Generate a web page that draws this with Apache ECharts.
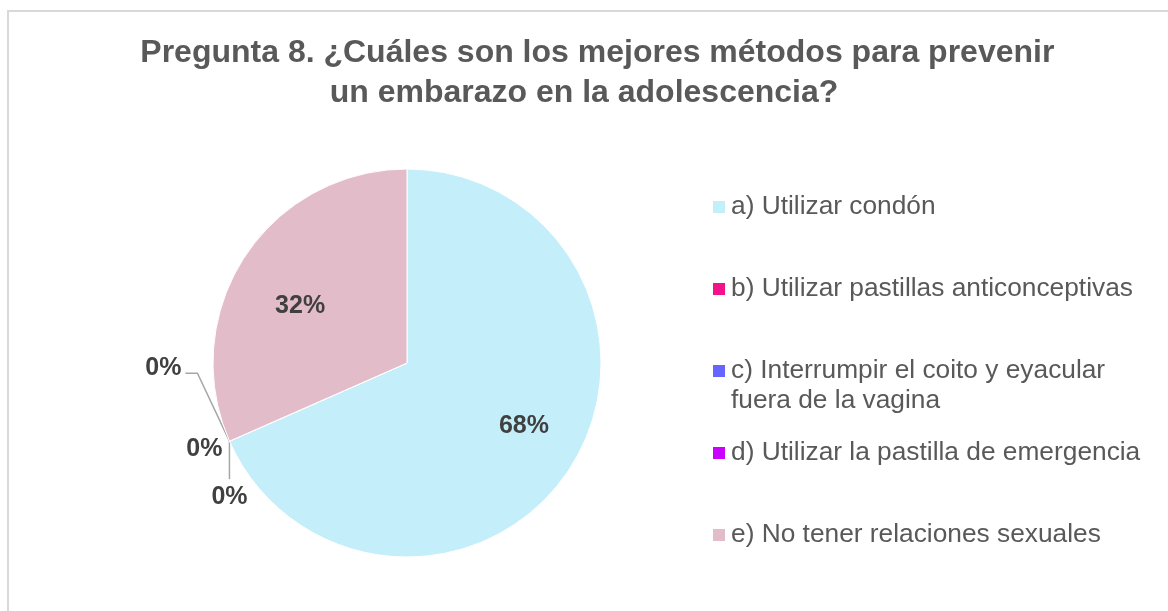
<!DOCTYPE html>
<html>
<head>
<meta charset="utf-8">
<script src="https://cdn.jsdelivr.net/npm/echarts@6/dist/echarts.min.js"></script>
<style>
  html, body { margin: 0; padding: 0; background: #fff; overflow: hidden; }
  #frame { position: absolute; left: 7px; top: 10px; width: 1300px; height: 800px;
           border-left: 2px solid #d9d9d9; border-top: 2px solid #d9d9d9; }
  #main { position: absolute; left: 0; top: 0; width: 1168px; height: 611px; }
</style>
</head>
<body>
<div id="frame"></div>
<div id="main"></div>
<script>
var categories = ['a) Utilizar condón', 'b) Utilizar pastillas anticonceptivas',
    'c) Interrumpir el coito y eyacular fuera de la vagina',
    'd) Utilizar la pastilla de emergencia', 'e) No tener relaciones sexuales'];
var values = [68.4, 0, 0, 0, 31.6];
var colors = ['#c5eefb', '#f2128a', '#6666ff', '#cc00ff', '#e3bcc9'];

var cx = 407, cy = 363, R = 194;
var legendCenters = [207, 289, 371, 453, 535];
var lh = 30;

var myChart = echarts.init(document.getElementById('main'));

var legends = categories.map(function (name, i) {
    var twoLine = name.indexOf('c)') === 0;
    return {
        orient: 'vertical',
        left: 711,
        top: legendCenters[i] - (twoLine ? lh * 1.5 : lh / 2),
        padding: 0,
        itemWidth: 14,
        itemHeight: 14,
        icon: 'rect',
        selectedMode: false,
        data: [name],
        // empty first line keeps the icon level with the first text line
        formatter: function (n) {
            return twoLine ? '\nc) Interrumpir el coito y eyacular\nfuera de la vagina' : n;
        },
        textStyle: {
            color: '#595959',
            fontSize: 26.3,
            lineHeight: lh,
            fontFamily: 'Liberation Sans, Arial, sans-serif'
        }
    };
});

// nudges for the inside labels
var insideNudge = { 0: [3, -11], 4: [7, 17] };

// label offsets for the zero slices, relative to the point on the rim
var zeroLabels = {
    1: { dx: -48, dy: -73, align: 'right', line: [[-32, -68], [-44, -68]] },
    2: { dx: -7, dy: 8, align: 'right', line: null },
    3: { dx: 0, dy: 56, align: 'center', line: [[0, 38]] }
};

var option = {
    backgroundColor: 'transparent',
    animation: false,
    title: {
        text: '   Pregunta 8. ¿Cuáles son los mejores métodos para prevenir\nun embarazo en la adolescencia?',
        left: 'center',
        top: 33,
        padding: 0,
        textStyle: {
            color: '#595959',
            fontSize: 32,
            fontWeight: 'bold',
            lineHeight: 40,
            fontFamily: 'Liberation Sans, Arial, sans-serif'
        }
    },
    legend: legends,
    color: colors,
    series: [{
        type: 'pie',
        center: [cx, cy],
        radius: [0, R],
        startAngle: 90,
        clockwise: true,
        percentPrecision: 0,
        avoidLabelOverlap: false,
        itemStyle: { borderColor: '#fff', borderWidth: 1 },
        label: {
            formatter: '{d}%',
            color: '#404040',
            fontSize: 25,
            fontWeight: 'bold',
            fontFamily: 'Liberation Sans, Arial, sans-serif'
        },
        labelLine: { show: true, length: 10, length2: 10, lineStyle: { color: '#a6a6a6', width: 1.5 } },
        data: categories.map(function (name, i) {
            var inside = values[i] > 0;
            return {
                name: name,
                value: values[i],
                label: { position: inside ? 'inside' : 'outside' },
                labelLine: { show: !inside }
            };
        }),
        labelLayout: function (p) {
            var i = p.dataIndex;
            var r = p.labelRect;
            if (values[i] > 0) {
                var lx = r.x + r.width / 2, ly = r.y + r.height / 2;
                var n = insideNudge[i] || [0, 0];
                return {
                    x: cx + (lx - cx) * 1.36 + n[0],
                    y: cy + (ly - cy) * 1.36 + n[1],
                    align: 'center',
                    verticalAlign: 'middle'
                };
            }
            var z = zeroLabels[i];
            var e = p.labelLinePoints[0];
            var pts = [[e[0], e[1]]];
            if (z.line) {
                z.line.forEach(function (q) { pts.push([e[0] + q[0], e[1] + q[1]]); });
            } else {
                pts.push([e[0], e[1]]);
            }
            return {
                x: e[0] + z.dx,
                y: e[1] + z.dy,
                align: z.align,
                verticalAlign: 'middle',
                labelLinePoints: pts
            };
        }
    }]
};

myChart.setOption(option);
</script>
</body>
</html>
